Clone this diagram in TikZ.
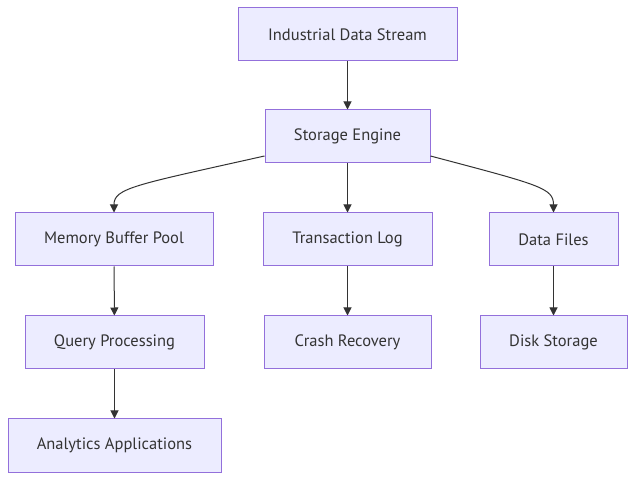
\documentclass[tikz,border=0pt]{standalone}
\usepackage{fontspec}
\setmainfont{PT Sans}
\usetikzlibrary{arrows.meta,calc}
\definecolor{nodefill}{HTML}{ECECFF}
\definecolor{nodeborder}{HTML}{9370DB}
\definecolor{txt}{HTML}{333333}
\definecolor{edge}{HTML}{333333}
\tikzset{
  box/.style={draw=nodeborder, fill=nodefill, line width=1pt, text=txt,
    minimum height=53pt, inner sep=0pt, font=\fontsize{16.5}{19}\selectfont},
  conn/.style={draw=edge, line width=1pt, -{Triangle[length=8pt,width=8pt]}}
}
\begin{document}
\begin{tikzpicture}[x=1pt,y=-1pt]
\useasboundingbox[fill=white] (0,0) rectangle (643,486);
\node[box, minimum width=219pt] (ids) at (347.5,34.5) {Industrial Data Stream};
\node[box, minimum width=165pt] (se) at (347.5,136.5) {Storage Engine};
\node[box, minimum width=198pt] (mbp) at (114,239.5) {Memory Buffer Pool};
\node[box, minimum width=169pt] (tl) at (347.5,239.5) {Transaction Log};
\node[box, minimum width=129pt] (df) at (553.5,239.5) {Data Files};
\node[box, minimum width=179pt] (qp) at (114.5,342.5) {Query Processing};
\node[box, minimum width=167pt] (cr) at (347.5,342.5) {Crash Recovery};
\node[box, minimum width=147pt] (ds) at (553.5,342.5) {Disk Storage};
\node[box, minimum width=213pt] (aa) at (114.5,445.5) {Analytics Applications};
\coordinate (seL) at ($(se.west)+(0,19.5)$);
\coordinate (seR) at ($(se.east)+(0,19.5)$);
\draw[conn] (ids) -- (se);
\draw[conn] (seL) .. controls (135,185) and (114,188) .. (mbp.north);
\draw[conn] (se) -- (tl);
\draw[conn] (seR) .. controls (540,185) and (553.5,188) .. (df.north);
\draw[conn] (mbp) -- (qp);
\draw[conn] (tl) -- (cr);
\draw[conn] (df) -- (ds);
\draw[conn] (qp) -- (aa);
\end{tikzpicture}
\end{document}
